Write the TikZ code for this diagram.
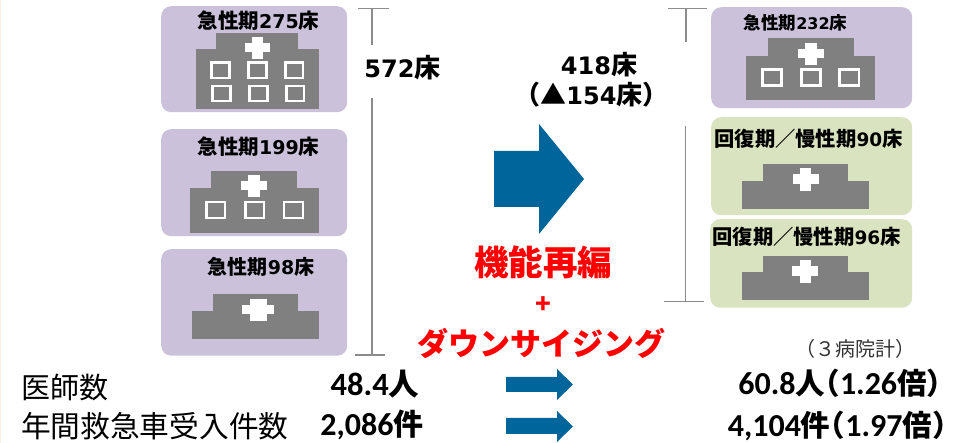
\documentclass[tikz,border=0pt]{standalone}
\usepackage{fontspec}
\setmainfont{Noto Sans CJK JP}
\newfontfamily\latb{DejaVu Sans}
\newfontfamily\carl{Carlito}
\newcommand{\fs}[1]{\fontsize{#1}{#1}\selectfont}
\newcommand{\La}[1]{{\latb #1}}
\newcommand{\Ca}[1]{{\carl #1}}
\definecolor{purp}{HTML}{CBC1DA}
\definecolor{gree}{HTML}{D9E3BF}
\definecolor{bgray}{HTML}{808080}
\definecolor{lgray}{HTML}{8C8C8C}
\definecolor{blu}{HTML}{00659A}
\definecolor{edge}{HTML}{FDF0E3}
\tikzset{
  pbox/.style={fill=purp,rounded corners=10pt,inner sep=0pt,anchor=north west},
  gbox/.style={fill=gree,rounded corners=10pt,inner sep=0pt,anchor=north west},
  lab/.style={inner sep=0pt,font=\bfseries},
  plain/.style={inner sep=0pt},
  brk/.style={draw=lgray,line width=1.8pt},
  bodyfill/.style={fill=bgray},
  crossfill/.style={fill=white},
  win/.style={draw=white,line width=2.2pt,fill=bgray},
  bluearrow/.style={fill=blu},
}
\newcommand{\Hosp}[7]{% lx, rx, tlx, trx, ty, my, by
  \fill[bodyfill] (#1,#7) rectangle (#2,#6);
  \fill[bodyfill] (#3,#6) rectangle (#4,#5);}
\newcommand{\Cross}[6]{% x1,x2,y1,y2, vx1, vx2 horizontal bar y1..y2
  \fill[crossfill] (#1,#3) rectangle (#2,#4);
  \fill[crossfill] (#5,#3-6) rectangle (#6,#4+7);}
\newcommand{\Win}[4]{\draw[win] (#1,#3) rectangle (#2,#4);}
\begin{document}
\begin{tikzpicture}[x=1pt,y=-1pt]
\useasboundingbox (0,0) rectangle (962,443);
\fill[edge] (0,0) rectangle (1.2,443);
% boxes
\node[pbox,minimum width=186pt,minimum height=106pt] (b1) at (161,6) {};
\node[pbox,minimum width=186pt,minimum height=107pt] (b2) at (161,129) {};
\node[pbox,minimum width=186pt,minimum height=106.5pt] (b3) at (161,249) {};
\node[pbox,minimum width=201pt,minimum height=101pt] (b4) at (711,7) {};
\node[gbox,minimum width=201pt,minimum height=98pt] (b5) at (711,117) {};
\node[gbox,minimum width=202pt,minimum height=88.5pt] (b6) at (710,219) {};
% hospital 1
\Hosp{196}{319}{216}{298}{33}{49}{109}
\Cross{245}{270}{43}{52}{252}{263}
\Win{211.5}{229.5}{62.5}{78}\Win{248.5}{266.5}{62.5}{78}\Win{285.5}{303}{62.5}{78}
\Win{212.5}{230.5}{86}{101}\Win{249.5}{267.5}{86}{101}\Win{286.5}{304}{86}{101}
% hospital 2
\Hosp{190}{319}{211}{297}{171}{188}{233}
\Cross{241}{267}{181}{190}{248}{260}
\Win{206.5}{225}{202}{218}\Win{245.5}{264}{202}{218}\Win{284}{303}{202}{218}
% hospital 3
\Hosp{192}{319}{213}{298}{294}{311}{339}
\Cross{242}{274}{305}{314}{250}{267}
% hospital 4
\Hosp{746}{875}{768}{854}{38}{56}{100}
\Cross{798}{824}{49}{58}{805}{817}
\Win{762.5}{781.5}{69.5}{85.5}\Win{801.5}{820.5}{69.5}{85.5}\Win{839.5}{859}{69.5}{85.5}
% hospital 5
\Hosp{742}{869}{763}{848}{164}{181}{209}
\Cross{793}{819}{174}{184}{800}{811}
% hospital 6
\Hosp{742}{869}{763}{848}{256}{272}{300}
\Cross{792}{818}{266}{276}{800}{811}
% box labels
\node[lab] (t1) at (258.5,21) {\fs{20.5}急性期\La{\fs{19}\bfseries 275}床};
\node[lab] (t2) at (258.5,147) {\fs{20.5}急性期\La{\fs{19}\bfseries 199}床};
\node[lab] (t3) at (261,267) {\fs{20}急性期\La{\fs{19}\bfseries 98}床};
\node[lab] (t4) at (795.5,23) {\fs{17.5}急性期\La{\fs{16}\bfseries 232}床};
\node[lab] (t5) at (808.5,139) {\fs{20.3}回復期／慢性期\La{\fs{18.5}\bfseries 90}床};
\node[lab] (t6) at (806.5,237) {\fs{20.3}回復期／慢性期\La{\fs{18.5}\bfseries 96}床};
% brackets
\coordinate (L1a) at (358,8.5); \coordinate (L1b) at (389,8.5);
\coordinate (L1c) at (372,8.5); \coordinate (L1d) at (372,45);
\coordinate (L2c) at (372,98);  \coordinate (L2d) at (372,355);
\coordinate (L2a) at (355,355); \coordinate (L2b) at (385,355);
\draw[brk] (L1a)--(L1b); \draw[brk] (L1c)--(L1d);
\draw[brk] (L2c)--(L2d); \draw[brk] (L2a)--(L2b);
\coordinate (R1a) at (668,8.5); \coordinate (R1b) at (707,8.5);
\coordinate (R1c) at (686,8.5); \coordinate (R1d) at (686,42);
\coordinate (R2c) at (685.5,126); \coordinate (R2d) at (685.5,301.5);
\coordinate (R2a) at (664,301.5); \coordinate (R2b) at (704,301.5);
\draw[brk] (R1a)--(R1b); \draw[brk] (R1c)--(R1d);
\draw[brk] (R2c)--(R2d); \draw[brk] (R2a)--(R2b);
% arrows
\fill[bluearrow] (494,151)--(539,151)--(539,124)--(584,179)--(539,234)--(539,207)--(494,207)--cycle;
\fill[bluearrow] (506,377)--(557,377)--(557,369)--(573,384.5)--(557,400)--(557,392)--(506,392)--cycle;
\fill[bluearrow] (506,418)--(557,418)--(557,411)--(573,426.5)--(557,442)--(557,434)--(506,434)--cycle;
% texts
\node[lab] (n572) at (402.5,68) {\fs{26}\La{\fs{24}\bfseries 572}床};
\node[lab] (n418) at (599,65) {\fs{26}\La{\fs{24}\bfseries 418}床};
\node[lab] (n154) at (591.5,95) {\fs{26}\makebox[13pt][r]{（}▲\La{\fs{24}\bfseries 154}床\makebox[13pt][l]{）}};
\node[lab,text=red] (k1) at (543,262) {\fs{34.5}機能再編};
\node[lab,text=red] (k2) at (543,305) {\fs{26}+};
\node[lab,text=red] (k3) at (541,343) {\fs{31}ダウンサイジング};
\node[plain,anchor=west] (s1) at (21,388) {\fs{29}医師数};
\node[plain,anchor=west] (s2) at (21,426.5) {\fs{29.7}年間救急車受入件数};
\node[lab] (v1) at (375,384.5) {\fs{30.5}\Ca{\fs{32.5}\bfseries 48.4}人};
\node[lab] (v2) at (372,425) {\fs{30}\Ca{\fs{32}\bfseries 2,086}件};
\node[plain,text=black!80] (s3) at (855,348.5) {\fs{20}（３病院計）};
\node[lab] (v3) at (840,383.5) {\fs{29.5}\Ca{\fs{32}\bfseries 60.8}人\makebox[15pt][r]{（}\Ca{\fs{32}\bfseries 1.26}倍\makebox[15pt][l]{）}};
\node[lab] (v4) at (837.5,426) {\fs{29.5}\Ca{\fs{32}\bfseries 4,104}件\makebox[15pt][r]{（}\Ca{\fs{32}\bfseries 1.97}倍\makebox[15pt][l]{）}};
\end{tikzpicture}
\end{document}
